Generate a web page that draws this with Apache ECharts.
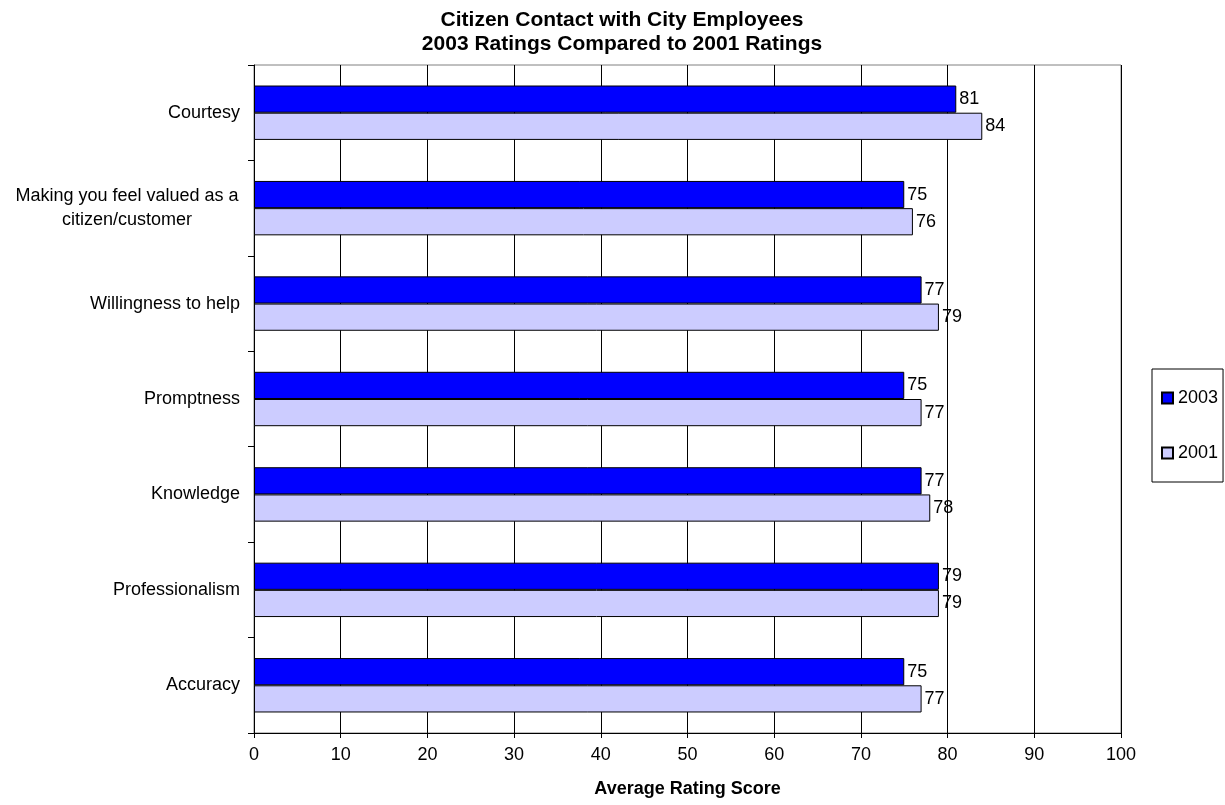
<!DOCTYPE html>
<html>
<head>
<meta charset="utf-8">
<script src="https://cdn.jsdelivr.net/npm/echarts@6/dist/echarts.min.js"></script>
<style>
  html, body { margin: 0; padding: 0; background: #fff; }
  #chart { width: 1225px; height: 805px; }
</style>
</head>
<body>
<div id="chart"></div>
<script>
// Rating categories, top to bottom
const categories = [
  'Courtesy',
  'Making you feel valued as a\ncitizen/customer',
  'Willingness to help',
  'Promptness',
  'Knowledge',
  'Professionalism',
  'Accuracy'
];
const ratings2003 = [81, 75, 77, 75, 77, 79, 75];
const ratings2001 = [84, 76, 79, 77, 78, 79, 77];
const xTicks = { min: 0, max: 100, interval: 10 };

const FONT = '"Liberation Sans", Arial, sans-serif';
const FS = 18;

const chart = echarts.init(document.getElementById('chart'));

const labelStyle = {
  show: true,
  position: 'right',
  distance: 3,
  color: '#000',
  fontFamily: FONT,
  fontSize: FS
};

chart.setOption({
  animation: false,
  backgroundColor: '#fff',
  title: {
    text: 'Citizen Contact with City Employees\n2003 Ratings Compared to 2001 Ratings',
    left: 622,
    textAlign: 'center',
    top: 8,
    padding: 0,
    textStyle: {
      fontFamily: FONT,
      fontSize: 21,
      fontWeight: 'bold',
      color: '#000',
      lineHeight: 24
    }
  },
  legend: {
    orient: 'vertical',
    left: 1152,
    top: 369,
    padding: [19, 5, 19, 9],
    itemGap: 35,
    itemWidth: 11,
    itemHeight: 11,
    borderColor: '#000',
    borderWidth: 1,
    icon: 'rect',
    textStyle: { fontFamily: FONT, fontSize: FS, color: '#000', lineHeight: 20 },
    data: ['2003', '2001']
  },
  grid: {
    left: 254,
    right: 104,
    top: 65,
    bottom: 72,
    show: true,
    borderColor: '#808080',
    borderWidth: 1,
    containLabel: false
  },
  xAxis: {
    type: 'value',
    min: xTicks.min,
    max: xTicks.max,
    interval: xTicks.interval,
    name: 'Average Rating Score',
    nameLocation: 'middle',
    nameGap: 47,
    nameTextStyle: { fontFamily: FONT, fontSize: FS, fontWeight: 'bold', color: '#000' },
    axisLine: { show: true, lineStyle: { color: '#000', width: 1 } },
    axisTick: { show: true, length: 5, lineStyle: { color: '#000' } },
    axisLabel: { fontFamily: FONT, fontSize: FS, color: '#000', margin: 13 },
    splitLine: { show: true, lineStyle: { color: '#000', width: 1 } }
  },
  yAxis: {
    type: 'category',
    inverse: true,
    data: categories,
    axisLine: { show: true, lineStyle: { color: '#000', width: 1 } },
    axisTick: { show: true, length: 6, inside: false, lineStyle: { color: '#000' } },
    axisLabel: {
      fontFamily: FONT,
      fontSize: FS,
      color: '#000',
      margin: 14,
      formatter: function (v) {
        return v.indexOf('\n') >= 0 ? '{m|' + v + '}' : v;
      },
      rich: {
        m: { fontFamily: FONT, fontSize: FS, color: '#000', width: 226, align: 'center', lineHeight: 24 }
      }
    },
    splitLine: { show: false }
  },
  series: [
    {
      name: '2003',
      type: 'bar',
      data: ratings2003,
      barGap: '0%',
      barCategoryGap: '43%',
      itemStyle: { color: '#0000FF', borderColor: '#000', borderWidth: 1 },
      label: labelStyle
    },
    {
      name: '2001',
      type: 'bar',
      data: ratings2001,
      barGap: '0%',
      barCategoryGap: '43%',
      itemStyle: { color: '#CCCCFF', borderColor: '#000', borderWidth: 1 },
      label: labelStyle
    }
  ]
});
</script>
</body>
</html>
